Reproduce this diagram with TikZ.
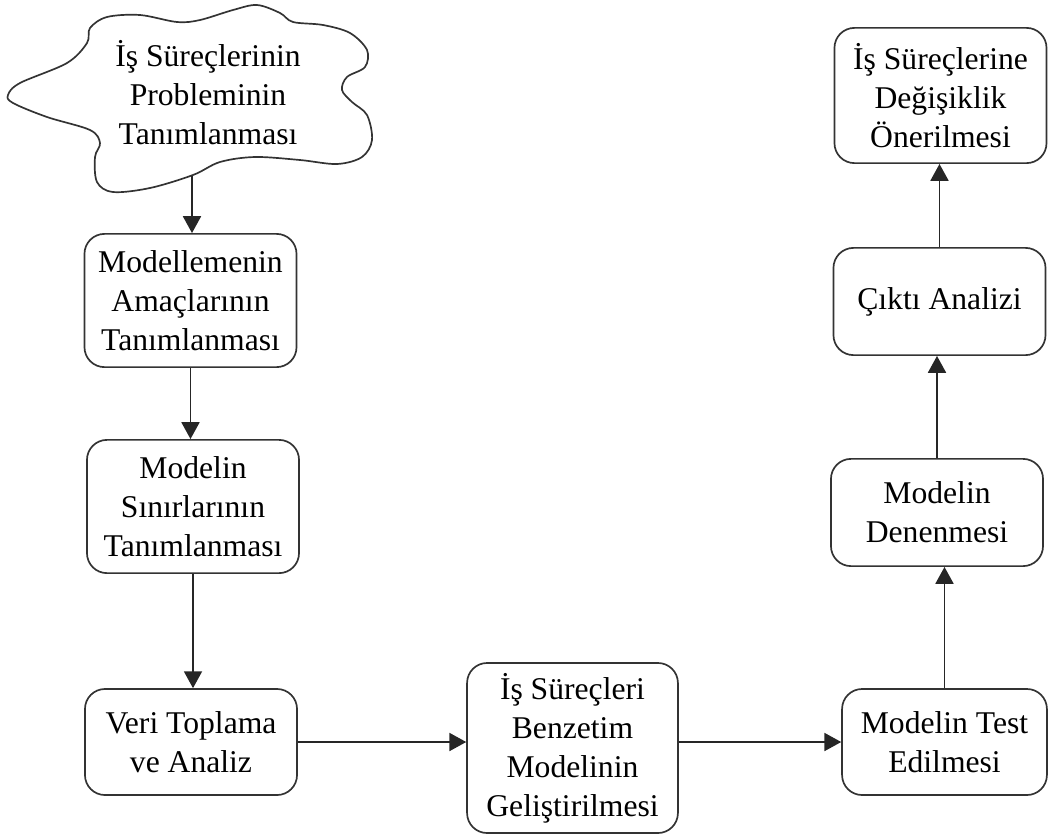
\documentclass[tikz,border=0pt]{standalone}
\usepackage{fontspec}
\setmainfont{Liberation Serif}
\usetikzlibrary{arrows.meta}

\begin{document}
\begin{tikzpicture}[x=0.025cm,y=-0.025cm,
  font=\fontsize{22.5}{27.7}\selectfont,
  box/.style={draw=black!80,line width=1.2pt,rounded corners=0.5cm,align=center,minimum width=5.3cm,inner sep=2pt},
  arr/.style={draw=black!85,line width=1.2pt,-{Triangle[length=0.42cm,width=0.45cm]}}]
\useasboundingbox (0,0) rectangle (1048,838);
\draw[black!80,line width=1.2pt] plot[smooth cycle,tension=0.55] coordinates {
  (8,95) (20,83) (67,63) (87,43) (90,28) (107,17) (140,15) (177,22) (200,20)
  (233,10) (257,5) (280,13) (293,22) (323,25) (350,33) (367,50) (365,67)
  (347,77) (342,90) (352,102) (367,115) (372,140) (362,157) (337,164)
  (300,160) (255,157) (220,162) (193,175) (150,188) (113,192) (97,182)
  (95,157) (100,143) (90,130) (47,117) (13,103)};
\node[align=center] (problem) at (208,93) {İş Süreçlerinin\\Probleminin\\Tanımlanması};
\coordinate (cloudbot) at (192,176);
\node[box,minimum height=3.33cm] (goal) at (190.5,300.5) {Modellemenin\\Amaçlarının\\Tanımlanması};
\node[box,minimum height=3.33cm] (bound) at (193,506.5) {Modelin\\Sınırlarının\\Tanımlanması};
\node[box,minimum height=2.65cm] (data) at (191,742) {Veri Toplama\\ve Analiz};
\node[box,minimum height=4.25cm,minimum width=5.27cm] (build) at (572.5,748) {İş Süreçleri\\Benzetim\\Modelinin\\Geliştirilmesi};
\node[box,minimum height=2.65cm,minimum width=5.12cm] (test) at (944.5,742) {Modelin Test\\Edilmesi};
\node[box,minimum height=2.68cm] (trial) at (937,512.5) {Modelin\\Denenmesi};
\node[box,minimum height=2.68cm] (output) at (939.5,301.5) {Çıktı Analizi};
\node[box,minimum height=3.38cm] (change) at (940.5,95.5) {İş Süreçlerine\\Değişiklik\\Önerilmesi};
\draw[arr] (cloudbot) -- (cloudbot |- goal.north);
\draw[arr] (goal.south) -- (goal.south |- bound.north);
\draw[arr] (bound.south) -- (bound.south |- data.north);
\draw[arr] (data.east) -- (data.east -| build.west);
\draw[arr] (build.east |- test.west) -- (test.west);
\draw[arr] (test.north) -- (test.north |- trial.south);
\draw[arr] (trial.north) -- (trial.north |- output.south);
\draw[arr] (output.north) -- (output.north |- change.south);
\end{tikzpicture}
\end{document}
